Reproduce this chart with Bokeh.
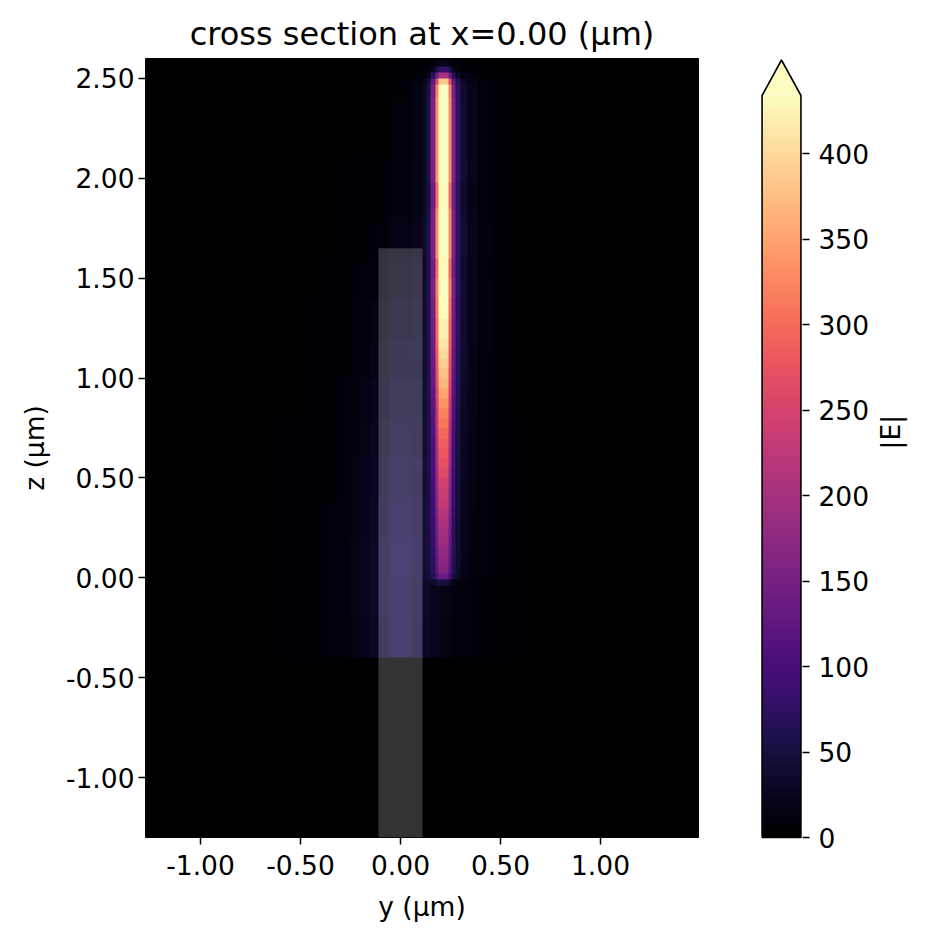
import numpy as np
from bokeh.plotting import figure
from bokeh.models import LinearColorMapper, FixedTicker, PrintfTickFormatter, Range1d
from bokeh.palettes import Magma256
from bokeh.layouts import row
from bokeh.embed import file_html
from bokeh.resources import INLINE

# ---------------- data ----------------
title_text = "cross section at x=0.00 (µm)"
x_label = "y (µm)"
y_label = "z (µm)"
cbar_label = "|E|"

y_lim = [-1.275, 1.49]          # horizontal axis range (µm)
z_lim = [-1.3, 2.6]             # vertical axis range (µm)
x_ticks = [-1.0, -0.5, 0.0, 0.5, 1.0]
z_ticks = [-1.0, -0.5, 0.0, 0.5, 1.0, 1.5, 2.0, 2.5]
cbar_ticks = [0, 50, 100, 150, 200, 250, 300, 350, 400]
E_MAX = 434.0                   # colour scale maximum

# waveguide overlay (semi transparent rectangle)
wg_left, wg_right, wg_top = -0.11, 0.11, 1.65

# bright strip: lateral profile (relative) between edges (y, µm)
strip_y_edges = [-0.05, 0.06, 0.11, 0.13, 0.15, 0.175, 0.19, 0.24, 0.255, 0.275, 0.30, 0.335, 0.385, 0.45, 0.55]
strip_y_rel = [0.01, 0.03, 0.06, 0.11, 0.32, 0.7, 1.0, 0.7, 0.33, 0.16, 0.08, 0.045, 0.02, 0.01]
# bright strip: peak |E| along z between edges (µm)
strip_z_edges = [-0.04, -0.015, 0.02, 0.06, 0.1, 0.15, 0.2, 0.25, 0.3, 0.35, 0.4, 0.45, 0.5, 0.55, 0.6,
                 0.65, 0.7, 0.75, 0.8, 0.85, 0.9, 0.95, 1.0, 1.05, 1.1, 1.15, 1.2, 1.3, 1.4, 1.5, 1.6,
                 1.85, 1.98, 2.4, 2.47, 2.5, 2.53, 2.56, 2.6]
strip_z_peak = [30, 115, 140, 150, 160, 170, 180, 190, 200, 212, 222, 232, 245, 255, 265, 275, 285, 297,
                310, 325, 340, 355, 368, 380, 392, 402, 415, 430, 450, 425, 470, 430, 480, 460, 380, 200,
                80, 20]

# guided-mode haze around the waveguide: lateral profile (relative)
haze_y_edges = [-0.6, -0.45, -0.35, -0.3, -0.25, -0.2, -0.15, -0.11, -0.06, 0.06, 0.11, 0.15, 0.2,
                0.25, 0.3, 0.35, 0.45, 0.6]
haze_y_rel = [0.04, 0.08, 0.13, 0.2, 0.3, 0.42, 0.55, 0.8, 1.0, 0.8, 0.55, 0.42, 0.3, 0.2, 0.13, 0.08, 0.04]
# haze peak |E| along z
haze_z_edges = [-0.4, -0.2, 0.0, 0.2, 0.4, 0.6, 0.8, 1.0, 1.2, 1.4, 1.6, 1.8, 2.1, 2.6]
haze_z_peak = [56, 60, 60, 55, 50, 44, 38, 32, 25, 18, 11, 6, 2]

# ---------------- build the field table ----------------
DX, DZ = 0.005, 0.01
nx = int(round((y_lim[1] - y_lim[0]) / DX))
nz = int(round((z_lim[1] - z_lim[0]) / DZ))
yc = y_lim[0] + (np.arange(nx) + 0.5) * DX
zc = z_lim[0] + (np.arange(nz) + 0.5) * DZ


def step(edges, vals, coords):
    edges = np.asarray(edges, float)
    vals = np.asarray(vals, float)
    idx = np.searchsorted(edges, coords, side="right") - 1
    ok = (idx >= 0) & (idx < len(vals))
    out = np.zeros(len(coords))
    out[ok] = vals[idx[ok]]
    return out


field = (np.outer(step(strip_z_edges, strip_z_peak, zc), step(strip_y_edges, strip_y_rel, yc))
         + np.outer(step(haze_z_edges, haze_z_peak, zc), step(haze_y_edges, haze_y_rel, yc)))
field = field.astype(np.float32)

mapper = LinearColorMapper(palette=Magma256, low=0, high=E_MAX, high_color=Magma256[-1])

FONT = "DejaVu Sans"
TICK_FS = "26.5px"
LABEL_FS = "26.5px"
INK = "black"


def style_axis(ax, standoff):
    ax.axis_label_text_font = FONT
    ax.axis_label_text_font_size = LABEL_FS
    ax.axis_label_text_font_style = "normal"
    ax.axis_label_text_color = INK
    ax.major_label_text_font = FONT
    ax.major_label_text_font_size = TICK_FS
    ax.major_label_text_color = INK
    ax.major_tick_in = 0
    ax.major_tick_out = 7
    ax.major_tick_line_width = 1.5
    ax.major_tick_line_color = INK
    ax.minor_tick_line_color = None
    ax.axis_line_color = None
    ax.major_label_standoff = standoff


# ---------------- main plot ----------------
p = figure(frame_width=553, frame_height=779,
           x_range=Range1d(*y_lim), y_range=Range1d(*z_lim),
           output_backend="svg", toolbar_location=None,
           min_border_left=145, min_border_top=58, min_border_bottom=95, min_border_right=30,
           title=title_text)
p.image(image=[field], x=y_lim[0], y=z_lim[0], dw=y_lim[1] - y_lim[0], dh=z_lim[1] - z_lim[0],
        color_mapper=mapper)
p.quad(left=[wg_left], right=[wg_right], bottom=[z_lim[0]], top=[wg_top],
       fill_color="white", fill_alpha=0.2, line_color=None)

p.grid.visible = False
p.outline_line_color = "black"
p.title.align = "center"
p.title.text_font = FONT
p.title.text_font_size = "32px"
p.title.text_font_style = "normal"
p.title.text_color = INK
p.title.standoff = 12

p.xaxis.ticker = FixedTicker(ticks=x_ticks)
p.xaxis.formatter = PrintfTickFormatter(format="%.2f")
p.xaxis.axis_label = x_label
style_axis(p.xaxis, 10)
p.xaxis.axis_label_standoff = 13
p.yaxis.ticker = FixedTicker(ticks=z_ticks)
p.yaxis.formatter = PrintfTickFormatter(format="%.2f")
p.yaxis.axis_label = y_label
style_axis(p.yaxis, 4)
p.yaxis.axis_label_standoff = 13

# ---------------- colour bar ----------------
# frame of the colour bar runs from page y=58 (top, shared with the plot) to y=840
px_per_unit = (837 - 95) / E_MAX
ext = (95 - 59.5) / px_per_unit
cb = figure(frame_width=42, frame_height=782,
            x_range=Range1d(-0.04, 1.04),
            y_range=Range1d(-3 / px_per_unit, E_MAX + (95 - 58) / px_per_unit),
            output_backend="svg", toolbar_location=None, y_axis_location="right",
            min_border_left=32, min_border_right=110, min_border_top=58, min_border_bottom=95)
grad = np.linspace(0, E_MAX, 256).reshape(-1, 1)
cb.image(image=[grad], x=0, y=0, dw=1, dh=E_MAX, color_mapper=mapper)
cb.patch([0, 0.5, 1], [E_MAX, E_MAX + ext, E_MAX], fill_color=Magma256[-1], line_color=None)
cb.line([0, 0, 0.5, 1, 1, 0], [0, E_MAX, E_MAX + ext, E_MAX, 0, 0], line_color="black", line_width=1.6)
cb.xaxis.visible = False
cb.grid.visible = False
cb.outline_line_color = None
ya = cb.yaxis
ya.ticker = FixedTicker(ticks=cbar_ticks)
ya.axis_label = cbar_label
style_axis(ya, 9)
ya.axis_label_standoff = 18
if "axis_label_orientation" in ya[0].properties():
    ya.axis_label_orientation = float(np.pi / 2)

layout = row(p, cb)
open("out.html", "w").write(file_html(layout, INLINE))
